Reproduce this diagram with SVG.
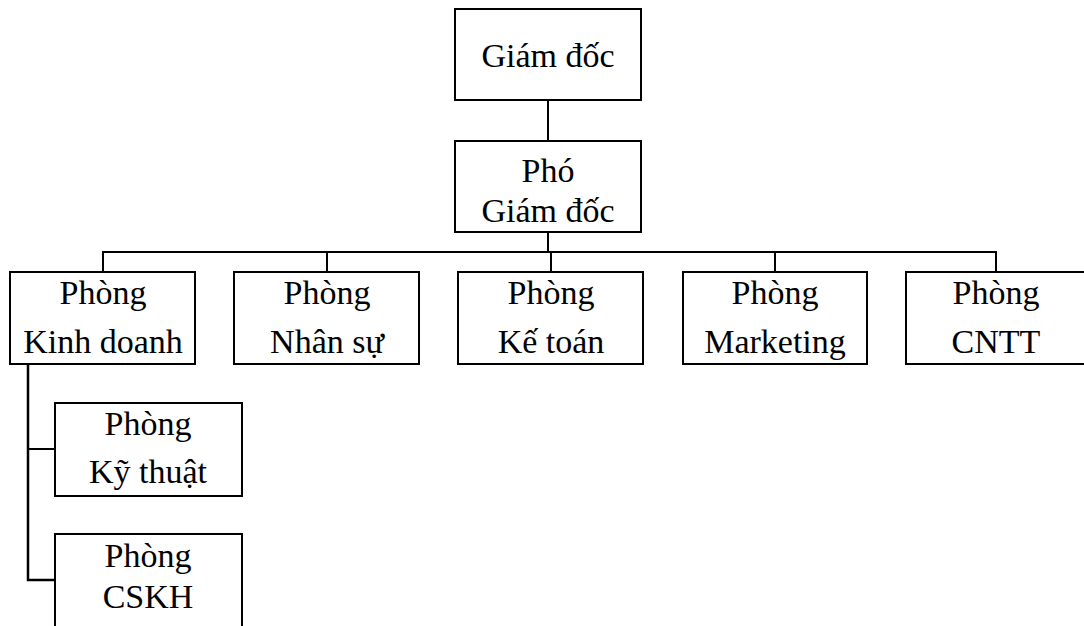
<svg xmlns="http://www.w3.org/2000/svg" width="1084" height="626" viewBox="0 0 1084 626">
<style>
.box{fill:#fff;stroke:#000;stroke-width:2}
.t{font-family:"Liberation Serif","Times New Roman",serif;font-size:34px;fill:#000;text-anchor:middle}
.c{fill:none;stroke:#000;stroke-width:2}
</style>
<rect width="1084" height="626" fill="#fff"/>
<g id="connectors">
<path class="c" d="M548 100V141"/>
<path class="c" d="M548 232V252"/>
<path class="c" d="M103 272V252H996V272"/>
<path class="c" d="M327 252V272"/>
<path class="c" d="M551 252V272"/>
<path class="c" d="M775 252V272"/>
<path class="c" d="M28 364V580H55" style="stroke-width:2.5"/>
<path class="c" d="M28 449H55"/>
</g>
<g id="giam-doc">
<rect class="box" x="455" y="9" width="186" height="91"/>
<text class="t" x="548" y="67">Giám đốc</text>
</g>
<g id="pho-giam-doc">
<rect class="box" x="455" y="141" width="186" height="91"/>
<text class="t" x="548" y="182">Phó</text>
<text class="t" x="548" y="222">Giám đốc</text>
</g>
<g id="kinh-doanh">
<rect class="box" x="10" y="272" width="185" height="92"/>
<text class="t" x="103" y="304">Phòng</text>
<text class="t" x="103" y="353">Kinh doanh</text>
</g>
<g id="nhan-su">
<rect class="box" x="234" y="272" width="185" height="92"/>
<text class="t" x="327" y="304">Phòng</text>
<text class="t" x="327" y="353">Nhân sự</text>
</g>
<g id="ke-toan">
<rect class="box" x="458" y="272" width="185" height="92"/>
<text class="t" x="551" y="304">Phòng</text>
<text class="t" x="551" y="353">Kế toán</text>
</g>
<g id="marketing">
<rect class="box" x="683" y="272" width="184" height="92"/>
<text class="t" x="775" y="304">Phòng</text>
<text class="t" x="775" y="353">Marketing</text>
</g>
<g id="cntt">
<rect class="box" x="906" y="272" width="186" height="92"/>
<text class="t" x="996" y="304">Phòng</text>
<text class="t" x="996" y="353">CNTT</text>
</g>
<g id="ky-thuat">
<rect class="box" x="55" y="403" width="187" height="93"/>
<text class="t" x="148" y="435">Phòng</text>
<text class="t" x="148" y="483">Kỹ thuật</text>
</g>
<g id="cskh">
<rect class="box" x="55" y="534" width="187" height="95"/>
<text class="t" x="148" y="567">Phòng</text>
<text class="t" x="148" y="608">CSKH</text>
</g>
</svg>
